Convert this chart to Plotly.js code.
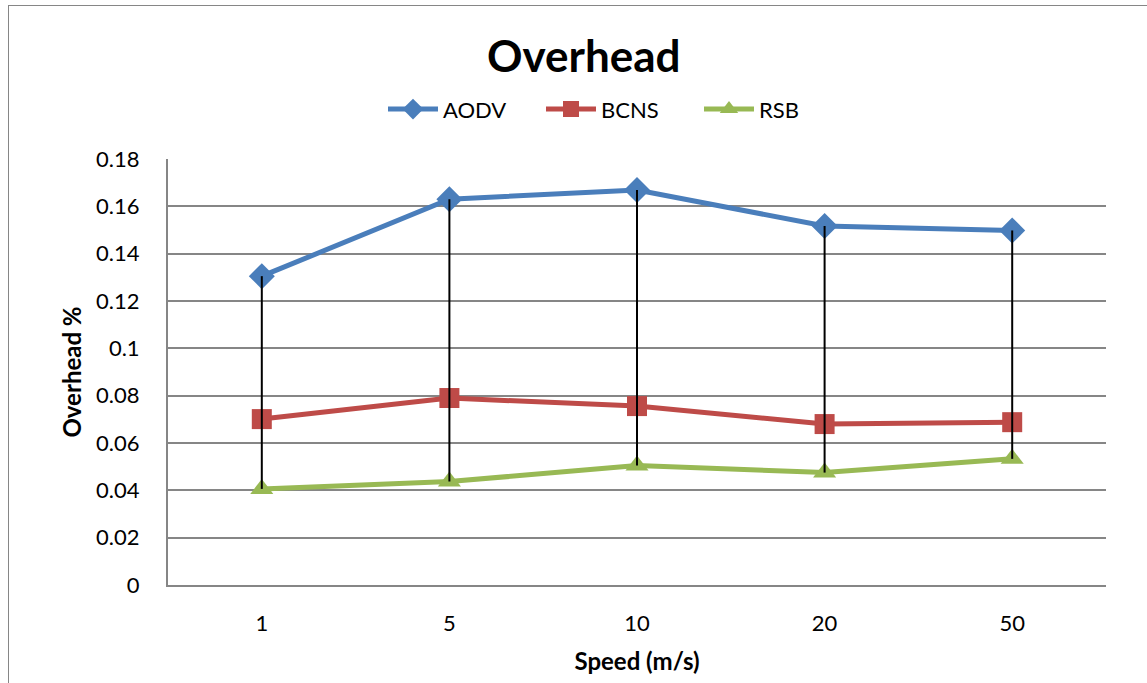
<!DOCTYPE html>
<html>
<head>
<meta charset="utf-8">
<script src="https://cdn.plot.ly/plotly-3.0.1.min.js"></script>
<style>
  html, body { margin: 0; padding: 0; background: #fff; }
  #wrap { position: relative; width: 1147px; height: 683px; }
  #chart { position: absolute; left: 0; top: 0; width: 1147px; height: 683px; }
  #frame { position: absolute; left: 8px; top: 5px; width: 1139px; height: 678px;
           border-top: 1.5px solid #868686; border-left: 1.5px solid #868686; box-sizing: border-box; pointer-events: none; }
</style>
</head>
<body>
<div id="wrap">
  <div id="chart"></div>
  <div id="frame"></div>
</div>
<script>
const categories = ["1", "5", "10", "20", "50"];
const aodv = [0.1305, 0.1630, 0.1669, 0.1517, 0.1498];
const bcns = [0.0701, 0.0790, 0.0756, 0.0680, 0.0688];
const rsb  = [0.0406, 0.0437, 0.0505, 0.0475, 0.0533];
const yTicks = [0, 0.02, 0.04, 0.06, 0.08, 0.1, 0.12, 0.14, 0.16, 0.18];

const FONT = "Lato, 'Open Sans', sans-serif";

// high-low lines built from series values
const hlX = [], hlY = [];
categories.forEach((c, i) => {
  const vals = [aodv[i], bcns[i], rsb[i]];
  hlX.push(c, c, null);
  hlY.push(Math.max(...vals), Math.min(...vals), null);
});

const traces = [
  { x: categories, y: aodv, name: "AODV", type: "scatter", mode: "lines+markers",
    line: { color: "#4A7EBB", width: 5 }, marker: { symbol: "diamond", size: 20, color: "#4A7EBB" } },
  { x: categories, y: bcns, name: "BCNS", type: "scatter", mode: "lines+markers",
    line: { color: "#BE4B48", width: 5 }, marker: { symbol: "square", size: 20, color: "#BE4B48" } },
  { x: categories, y: rsb, name: "RSB", type: "scatter", mode: "lines+markers",
    line: { color: "#98B954", width: 5 }, marker: { symbol: "triangle-up", size: 20, color: "#98B954" } },
  { x: hlX, y: hlY, type: "scatter", mode: "lines", showlegend: false, hoverinfo: "skip",
    line: { color: "#000000", width: 2 } }
];

const layout = {
  width: 1147, height: 683,
  margin: { l: 168, r: 41, t: 159, b: 98 },
  paper_bgcolor: "#ffffff", plot_bgcolor: "#ffffff",
  font: { family: FONT, size: 22, color: "#000" },
  title: { text: "<b>Overhead</b>", font: { family: FONT, size: 44, color: "#000" },
           x: 0.509, xref: "container", xanchor: "center", y: 0.917, yanchor: "middle" },
  showlegend: true,
  legend: { orientation: "h", x: 383 / 1147, xref: "container", xanchor: "left", y: 0.84, yref: "container", yanchor: "middle",
            font: { family: FONT, size: 22 }, itemwidth: 50, tracegroupgap: 0,
            entrywidth: 93, entrywidthmode: "pixels" },
  xaxis: {
    type: "category", categoryorder: "array", categoryarray: categories,
    range: [-0.5, 4.5], showgrid: false, zeroline: false,
    showline: true, linecolor: "#868686", linewidth: 2,
    ticks: "", tickfont: { family: FONT, size: 22 }, ticklabelstandoff: 18,
    title: { text: "<b>Speed (m/s)</b>", font: { family: FONT, size: 24 }, standoff: 18 }
  },
  yaxis: {
    range: [0, 0.18], tickvals: yTicks, ticktext: yTicks.map(v => String(v)),
    showgrid: true, gridcolor: "#868686", gridwidth: 2,
    showline: true, linecolor: "#868686", linewidth: 2, zeroline: false,
    ticks: "", tickfont: { family: FONT, size: 22 }, ticklabelstandoff: 22,
    title: { text: "<b>Overhead %</b>", font: { family: FONT, size: 24 }, standoff: 8 }
  }
};

Plotly.newPlot("chart", traces, layout, { displayModeBar: false, staticPlot: true });
</script>
</body>
</html>
